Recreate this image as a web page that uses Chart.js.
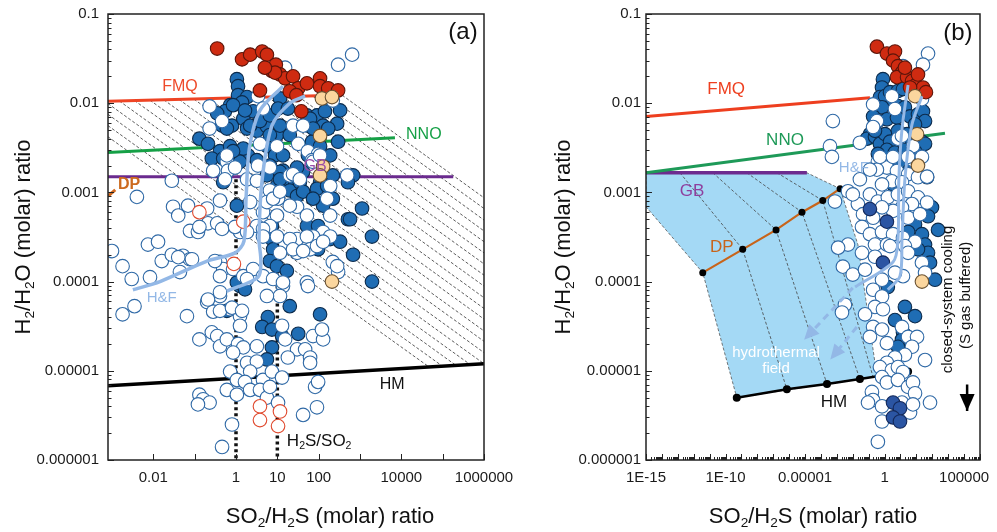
<!DOCTYPE html>
<html>
<head>
<meta charset="utf-8">
<script src="https://cdn.jsdelivr.net/npm/chart.js@4.4.1/dist/chart.umd.min.js"></script>
<style>
html, body { margin: 0; padding: 0; background: #fff; }
#wrap { position: relative; width: 997px; height: 532px; overflow: hidden; }
canvas { position: absolute; top: 0; }
#ca { left: 0; }
#cb { left: 530px; }
</style>
</head>
<body>
<div id="wrap">
  <canvas id="ca" width="530" height="532"></canvas>
  <canvas id="cb" width="467" height="532"></canvas>
</div>
<script>
/* ── H2/H2O vs SO2/H2S ── */

const FONT = '"Liberation Sans", Arial, Helvetica, sans-serif';

// ── Ejes ──
const yTicks = [1e-6, 1e-5, 1e-4, 1e-3, 1e-2, 1e-1];
const yTickLabels = ['0.000001', '0.00001', '0.0001', '0.001', '0.01', '0.1'];
const xTicksA = [0.01, 0.1, 1, 10, 100, 1000, 1e4, 1e5, 1e6];
const xTickLabelsA = ['0.01', '', '1', '10', '100', '', '10000', '', '1000000'];
const xTicksB = [1e-15, 1e-14, 1e-13, 1e-12, 1e-11, 1e-10, 1e-9, 1e-8, 1e-7, 1e-6, 1e-5,
    1e-4, 1e-3, 1e-2, 1e-1, 1, 10, 100, 1000, 1e4, 1e5, 1e6];
const xTickLabelsB = ['1E-15', '', '', '', '', '1E-10', '', '', '', '', '0.00001',
    '', '', '', '', '1', '', '', '', '', '100000', ''];

// ── Panel (a): muestras ──
const redA = [[0.35,0.041],[1.4,0.031],[2.2,0.035],[4.3,0.038],[5.6,0.035],[7.4,0.023],[9.2,0.027],[11.6,0.021],
    [15.4,0.019],[24,0.020],[32,0.0147],[52,0.0167],[108,0.019],[108,0.0155],[170,0.0147],[295,0.0139],[38,0.0081],
    [3.8,0.0139],[20,0.0136],[29,0.0123],[8.8,0.022],[5.0,0.025]];
const tanA = [[120,0.0113],[210,0.0117],[108,0.0043],[128,0.00195],[108,0.00155],[210,0.0001]];
const redOpenA = [[0.13,0.0006],[1.5,0.00047],[0.89,0.000158],[3.8,0.000004],[11.6,0.0000035],[3.8,0.0000028],[10.4,0.0000024]];
const blueA = [
    [1.05,0.0186],[1.12,0.0155],[1.12,0.0123],[1.85,0.0117],[1.4,0.0102],[0.72,0.0095],[0.54,0.0081],[0.35,0.0077],[0.46,0.0056],[0.80,0.0056],
    [1.5,0.0067],[2.6,0.0081],[1.85,0.0052],[3.2,0.0049],[5.6,0.0055],[9.8,0.0044],[5.6,0.0033],[8.8,0.0026],[0.13,0.0040],[0.21,0.0035],
    [0.41,0.0029],[0.72,0.0033],[1.4,0.0029],[1.95,0.0026],[3.2,0.0023],[6.6,0.0020],[13.7,0.00175],[23,0.00135],[13,0.0013],[20,0.00105],
    [30,0.00091],[52,0.0073],[91,0.0073],[128,0.0056],[55,0.0056],[280,0.0059],[142,0.0081],[69,0.0037],[108,0.0033],[295,0.0037],
    [190,0.0026],[55,0.0026],[42,0.0017],[128,0.00155],[108,0.0013],[91,0.0011],[128,0.00071],[1120,0.00066],[510,0.0005],[1950,0.00032],
    [52,0.00042],[97,0.00042],[190,0.0003],[7.4,0.00042],[7.4,0.0003],[0.80,0.0024],[0.26,0.0024],[1.05,0.00071],[5.6,0.00155],[9.8,0.00118],
    [2.2,0.0056],[3.8,0.0063],[6.6,0.0073],[11.6,0.0113],[10.4,0.0087],[18,0.0087],[62,0.0067],[330,0.0083],[73,0.0052],[170,0.0052],
    [11.6,0.0056],[6.6,0.0044],[20,0.0044],[0.60,0.0052],[1.5,0.0031],[0.49,0.0024],[1.25,0.0022],[13.7,0.0026],[30,0.0019],[11.6,0.0017],
    [220,0.00155],[680,0.00155],[0.49,0.0013],[11.6,0.0014],[35,0.0013],[42,0.00102],[73,0.00085],[220,0.00085],[510,0.0013],[160,0.00118],
    [575,0.0005],[330,0.00028],[680,0.0002],[97,0.00023],[7.9,0.00023],[6.6,0.00017],[9.8,0.000149],[17,0.000132],[1.25,0.000089],[20,0.000053],
    [108,0.000043],[5.9,0.00004],[4.3,0.000031],[7.4,0.000029],[13,0.0000245],[32,0.000026],[7.4,0.0000183],[0.60,0.000047],[5.6,0.0000134],[1950,0.0001],
    [1.05,0.000098],[1.65,0.000082],[0.85,0.0095],[1.65,0.0083],[0.85,0.0029]];
const whiteA = [
    [645,0.035],[295,0.027],[15.4,0.025],[3.4,0.012],[0.23,0.0092],[0.46,0.0063],[0.23,0.0052],[4.5,0.0087],[24,0.0056],[42,0.0056],
    [32,0.0035],[9.8,0.0033],[220,0.0107],[55,0.0029],[97,0.0027],[69,0.0023],[3.8,0.0035],[0.60,0.0022],[0.28,0.00175],[0.64,0.00175],
    [3.4,0.002],[6.6,0.0019],[20,0.00155],[490,0.00155],[0.6,0.0026],[0.54,0.0014],[0.95,0.0019],[0.028,0.00135],[0.004,0.00089],[0.030,0.00069],
    [0.040,0.00055],[0.069,0.00071],[0.077,0.00037],[0.12,0.00036],[0.21,0.00045],[0.35,0.00045],[0.46,0.00039],[0.41,0.00081],[1.85,0.0014],[3.2,0.00135],
    [6.6,0.00105],[10.4,0.00085],[24,0.0016],[35,0.0014],[73,0.0022],[108,0.0026],[190,0.00118],[160,0.00085],[190,0.00055],[30,0.00069],
    [52,0.00055],[128,0.00036],[73,0.00032],[30,0.0003],[9.8,0.00055],[4.5,0.0006],[6.6,0.00042],[3.2,0.00042],[1.25,0.00036],[2.2,0.00078],
    [0.20,0.00066],[0.13,0.00041],[0.95,0.00041],[1.85,0.00036],[4.5,0.00039],[5.6,0.00078],[7.9,0.00085],[11.6,0.00102],[20,0.00071],[52,0.00032],
    [20,0.0003],[11.6,0.00021],[30,0.00021],[62,0.00023],[91,0.00025],[190,0.00032],[220,0.000166],[295,0.000128],[0.052,0.000195],[0.077,0.000178],
    [0.41,0.000166],[0.49,0.000138],[0.41,0.000115],[0.85,0.000138],[1.5,0.000115],[2.6,0.000138],[4.5,0.000115],[7.9,0.000107],[13.7,0.000089],[11.6,0.000069],
    [52,0.000098],[5.6,0.000069],[0.41,0.000069],[0.20,0.000059],[0.28,0.000046],[0.72,0.000049],[1.25,0.000041],[0.065,0.000041],[0.001,0.00022],[0.0074,0.00026],
    [0.013,0.00028],[0.0018,0.000149],[0.003,0.000107],[0.0083,0.000112],[0.016,0.00017],[0.028,0.0002],[0.040,0.000188],[0.086,0.000178],[0.044,0.000128],[0.0018,0.000043],
    [0.0035,0.000053],[0.21,0.000063],[0.41,0.000076],[0.31,0.00017],[1.85,0.000107],[55,0.000089],[280,0.000149],[13.7,0.000098],[24,0.00023],[42,0.00022],
    [128,0.00028],[4.5,0.00032],[9.8,0.00032],[0.41,0.000047],[0.80,0.000051],[1.4,0.000047],[1.25,0.000032],[0.13,0.0000225],[0.26,0.000027],[0.35,0.0000245],
    [0.41,0.0000188],[0.60,0.0000225],[1.12,0.00002],[1.5,0.0000183],[0.85,0.000016],[3.2,0.0000188],[1.85,0.0000123],[3.2,0.0000127],[13,0.000032],[15.4,0.0000225],
    [30,0.0000174],[18,0.0000141],[47,0.0000174],[62,0.0000141],[62,0.0000123],[73,0.0000245],[128,0.0000225],[120,0.000029],[0.72,0.0000098],[2.2,0.0000098],
    [1.05,0.0000079],[1.65,0.0000075],[4.5,0.0000079],[7.4,0.0000098],[13,0.0000084],[0.60,0.0000061],[2.2,0.0000061],[3.8,0.0000061],[5.6,0.000005],[0.13,0.0000054],
    [0.16,0.0000048],[0.23,0.0000044],[0.12,0.0000042],[1.05,0.0000054],[6.6,0.0000066],[10.4,0.0000044],[42,0.0000032],[91,0.0000039],[82,0.0000066],[97,0.0000075],
    [0.80,0.0000025],[0.46,0.0000014]];

// ── Panel (a): buffers y curvas ──
const fmqA = [[0.0008,0.0105],[275,0.0123]];
const nnoA = [[0.0008,0.0028],[7000,0.0041]];
const gbA = [[0.0008,0.0015],[1.8e5,0.0015]];
const dpA = [[0.0008,0.00091],[0.0012,0.00107]];
const hmA = [[0.0008,0.0000068],[1e6,0.000012]];
const hfA1 = [[0.0032,0.000081],[0.0145,0.0001],[0.2,0.00017],[0.95,0.00021],[1.56,0.000285],[1.75,0.00085],[2.1,0.0031],[3.8,0.0083],[13.7,0.0155]];
const hfA2 = [[0.6,0.000078],[3.4,0.000112],[4.0,0.00017],[3.6,0.0003],[4.3,0.0014],[7.4,0.0056],[20,0.01],[47,0.012]];
const h2sA1 = [[1,0.0014],[1,0.000001]];
const h2sA2 = [[10,0.00058],[10,0.000001]];
const isoA = [
    [[370,0.0123],[1e6,0.00087]], [[160,0.0122],[1e6,0.00066]], [[72,0.012],[1e6,0.00049]],
    [[32,0.0119],[1e6,0.00037]], [[13.7,0.0118],[1e6,0.00028]], [[5.9,0.0117],[1e6,0.00021]],
    [[2.6,0.0116],[1e6,0.000158]], [[1.18,0.0115],[1e6,0.000118]], [[0.51,0.0113],[1e6,0.000089]],
    [[0.22,0.0112],[1e6,0.000066]], [[0.096,0.0111],[1e6,0.00005]], [[0.042,0.011],[1e6,0.000038]],
    [[0.018,0.0109],[1e6,0.000028]], [[0.0083,0.0108],[1e6,0.0000214]], [[0.0035,0.0107],[1e6,0.000016]],
    [[0.0015,0.0106],[1e6,0.000012]], [[0.0008,0.0099],[4.7e5,0.0000117]], [[0.0008,0.0075],[2.1e5,0.0000115]],
    [[0.0008,0.0056],[9.8e4,0.0000113]], [[0.0008,0.0042],[4.5e4,0.0000112]]];

// ── Panel (b): muestras ──
const redB = [[0.33,0.043],[1.4,0.036],[4.5,0.038],[3.4,0.030],[6.9,0.026],[12.4,0.022],[6.0,0.0196],[26,0.0196],
    [53,0.0177],[94,0.016],[126,0.021],[260,0.015],[400,0.0133],[40,0.015],[19,0.025]];
const tanB = [[82,0.012],[110,0.0045],[126,0.002],[224,0.0001]];
const navyB = [[0.79,0.000163],[3.4,0.0000044],[9.3,0.0000038],[3.4,0.000003],[9.3,0.0000027],[0.12,0.00065],[1.4,0.00047]];
const blueB = [
    [0.79,0.0186],[0.69,0.015],[0.51,0.0117],[1.07,0.012],[2.2,0.0133],[6.9,0.0137],[14.4,0.0144],[2.9,0.0097],[6.9,0.0093],[19,0.009],
    [0.69,0.009],[0.19,0.0071],[0.38,0.0063],[1.4,0.0066],[6.0,0.0069],[40,0.0071],[126,0.0075],[260,0.0081],[350,0.0063],[82,0.0058],
    [0.12,0.0045],[0.078,0.004],[0.25,0.0042],[0.51,0.0035],[1.07,0.0045],[2.2,0.0037],[6.9,0.0049],[26,0.0045],[53,0.0035],[224,0.0037],
    [350,0.0035],[1.4,0.003],[4.5,0.0028],[0.38,0.0027],[19,0.003],[82,0.0029],[0.25,0.0049],[470,0.00148],[960,0.00068],[540,0.00054],
    [2300,0.00038],[82,0.00044],[30,0.00036],[224,0.00034],[350,0.00026],[540,0.00021],[1480,0.000105],[19,0.000052],[82,0.000041],[4.5,0.000037],
    [14.4,0.000027],[12.4,0.0000224],[6.9,0.0000186],[1.6,0.000087],[126,0.00023],[720,0.000163],[9.3,0.002],[40,0.0018],[3.4,0.00123]];
const whiteB = [
    [540,0.036],[260,0.027],[14.4,0.026],[2.9,0.012],[0.19,0.0097],[4.5,0.0086],[224,0.0111],[0.33,0.0063],[6.9,0.004],[61,0.0023],
    [0.38,0.0022],[1.4,0.0019],[0.33,0.0018],[6.0,0.00174],[30,0.0016],[126,0.00148],[2.9,0.00133],[0.69,0.00123],[12.4,0.0013],[0.028,0.0014],
    [0.005,0.00103],[0.12,0.00095],[0.38,0.00079],[1.6,0.00088],[6.9,0.00095],[30,0.00103],[126,0.00088],[53,0.00074],[12.4,0.00068],[3.4,0.00062],
    [0.69,0.00068],[0.021,0.00074],[0.044,0.00057],[0.19,0.00052],[0.00076,0.00079],[30,0.00052],[170,0.00057],[0.038,0.00041],[0.12,0.00034],[0.69,0.00036],
    [3.4,0.00034],[14.4,0.00031],[82,0.00028],[0.25,0.00026],[1.4,0.00026],[0.005,0.00026],[0.0012,0.00024],[0.00056,0.0063],[0.00037,0.0033],[0.00049,0.0025],
    [0.028,0.0036],[0.19,0.0054],[12.4,0.0043],[61,0.0033],[0.51,0.0025],[3.4,0.0025],[30,0.0025],[224,0.0025],[0.010,0.00095],[0.12,0.0018],
    [470,0.0015],[470,0.00077],[0.038,0.00021],[0.0024,0.000147],[0.010,0.00012],[0.059,0.000136],[0.25,0.00019],[2.2,0.00025],[19,0.00025],[30,0.00021],
    [224,0.000163],[350,0.000126],[14.4,0.000115],[4.5,0.000126],[0.69,0.000105],[0.19,0.000081],[0.69,0.000068],[0.25,0.000052],[0.79,0.000049],[0.0032,0.000055],
    [0.0021,0.000045],[0.059,0.000043],[0.19,0.000031],[0.12,0.000024],[0.69,0.000029],[1.4,0.0000204],[12.4,0.000031],[30,0.000024],[110,0.000024],[53,0.0000186],
    [19,0.0000151],[4.5,0.0000141],[1.4,0.0000123],[0.51,0.000011],[2.9,0.0000102],[6.9,0.000011],[14.4,0.0000097],[0.69,0.0000085],[1.4,0.0000074],[6.9,0.0000079],
    [30,0.0000066],[61,0.0000074],[82,0.0000056],[0.16,0.0000058],[0.19,0.0000047],[0.69,0.000004],[12.4,0.0000044],[40,0.0000034],[61,0.0000042],[0.69,0.0000027],
    [0.38,0.0000016],[720,0.0000044],[350,0.0000132],[0.091,0.0000044]];

// ── Panel (b): buffers, campo hidrotermal ──
const fmqB = [[1e-15,0.0071],[0.12,0.0115]];
const nnoB = [[1e-15,0.00166],[6300,0.0046]];
const gbB = [[1e-15,0.00166],[1.3e-5,0.00166]];
const dpB = [[3.7e-12,0.000126],[1.2e-9,0.00023],[1.5e-7,0.00038],[6.4e-6,0.0006],[1.3e-4,0.00081],[1.6e-3,0.0011]];
const hmB = [[5.1e-10,0.000005],[7.2e-7,0.0000062],[2.4e-4,0.0000071],[0.028,0.0000081],[30,0.0000098]];
const fieldB = [[1e-15,0.00166],[1.3e-5,0.00166],[1.6e-3,0.0011],[0.021,0.00026],[0.33,0.0000087],
    [5.1e-10,0.000005],[3.7e-12,0.000126],[1e-15,0.00069],[1e-15,0.00166]];
const isoB = [
    [[1.35e-13,0.00166],[1.2e-9,0.00023],[7.2e-7,0.0000062]],
    [[1.6e-11,0.00166],[1.5e-7,0.00038],[2.4e-4,0.0000071]],
    [[2.2e-9,0.00166],[6.4e-6,0.0006],[0.028,0.0000081]],
    [[1.7e-7,0.00166],[1.3e-4,0.00081],[0.19,0.0000085]]];
const hfB1 = [[0.014,0.000087],[3.4,0.000166],[6.9,0.00029],[7.9,0.0014],[12.4,0.0051],[30,0.016]];
const hfB2 = [[1.6,0.000081],[9.3,0.000115],[12.4,0.00029],[19,0.0014],[52,0.0057],[224,0.012]];
const arrowB1 = [[0.01,0.000085],[1.3e-5,0.000024]];
const arrowB2 = [[0.018,0.000031],[5.6e-4,0.0000145]];
const coolB = [[1.55e5,0.000007],[1.55e5,0.00000355]];

// ── Helpers ──
const pts = arr => arr.map(p => ({ x: p[0], y: p[1] }));

function dots(data, fill, border, order) {
    return {
        data: pts(data), showLine: false, order: order,
        pointRadius: 6.8, pointHoverRadius: 6.8,
        pointBackgroundColor: fill, pointBorderColor: border, pointBorderWidth: 1.1
    };
}

function line(data, color, width, order, extra) {
    return Object.assign({
        data: pts(data), showLine: true, borderColor: color, borderWidth: width,
        pointRadius: 0, pointHoverRadius: 0, fill: false, tension: 0, order: order
    }, extra || {});
}

function axes(xMin, xMax, xTicks, xLabels, yWidth, yPad) {
    const noPad = s => { s.paddingLeft = 0; s.paddingRight = 0; s.paddingTop = 0; s.paddingBottom = 0; };
    return {
        x: {
            type: 'logarithmic', min: xMin, max: xMax,
            grid: { display: false, drawTicks: false }, border: { display: false },
            afterBuildTicks: s => { s.ticks = xTicks.map(v => ({ value: v })); },
            afterFit: s => { s.height = 72; noPad(s); },
            ticks: {
                autoSkip: false, maxRotation: 0, minRotation: 0, padding: 9, color: '#1a1a1a',
                font: { family: FONT, size: 15 }, callback: (v, i) => xLabels[i]
            }
        },
        y: {
            type: 'logarithmic', min: 1e-6, max: 0.1,
            grid: { display: false, drawTicks: false }, border: { display: false },
            afterBuildTicks: s => { s.ticks = yTicks.map(v => ({ value: v })); },
            afterFit: s => { s.width = yWidth; noPad(s); },
            ticks: {
                autoSkip: false, padding: yPad, color: '#1a1a1a',
                font: { family: FONT, size: 15 }, callback: (v, i) => yTickLabels[i]
            }
        }
    };
}

// texto con subíndices: parts = [[texto, esSub], ...]
function drawRich(ctx, parts, x, y, size, color, rot, align) {
    ctx.save();
    ctx.translate(x, y);
    if (rot) ctx.rotate(rot);
    ctx.fillStyle = color;
    ctx.textBaseline = 'alphabetic';
    ctx.textAlign = 'left';
    const fonts = parts.map(p => (p[1] ? size * 0.62 : size) + 'px ' + FONT);
    let w = 0;
    parts.forEach((p, i) => { ctx.font = fonts[i]; w += ctx.measureText(p[0]).width; });
    let cx = align === 'left' ? 0 : -w / 2;
    const base = size * 0.36;
    parts.forEach((p, i) => {
        ctx.font = fonts[i];
        ctx.fillText(p[0], cx, base + (p[1] ? size * 0.2 : 0));
        cx += ctx.measureText(p[0]).width;
    });
    ctx.restore();
}

const Y_TITLE = [['H', 0], ['2', 1], ['/H', 0], ['2', 1], ['O (molar) ratio', 0]];
const X_TITLE = [['SO', 0], ['2', 1], ['/H', 0], ['2', 1], ['S (molar) ratio', 0]];

function overlay(opt) {
    return {
        id: 'overlay',
        afterDatasetsDraw(chart) {
            const { ctx, scales: { x, y } } = chart;
            (opt.arrows || []).forEach(a => {
                const n = a.data.length;
                const x1 = x.getPixelForValue(a.data[n - 2][0]), y1 = y.getPixelForValue(a.data[n - 2][1]);
                const x2 = x.getPixelForValue(a.data[n - 1][0]), y2 = y.getPixelForValue(a.data[n - 1][1]);
                ctx.save();
                ctx.translate(x2, y2);
                ctx.rotate(Math.atan2(y2 - y1, x2 - x1));
                ctx.fillStyle = a.color;
                ctx.beginPath();
                ctx.moveTo(a.tip, 0);
                ctx.lineTo(a.tip - a.len, -a.wid / 2);
                ctx.lineTo(a.tip - a.len, a.wid / 2);
                ctx.closePath();
                ctx.fill();
                ctx.restore();
            });
        },
        afterDraw(chart) {
            const { ctx, chartArea: ar, scales: { x, y } } = chart;
            ctx.save();
            // marcas hacia dentro
            ctx.strokeStyle = '#222';
            ctx.lineWidth = 1;
            yTicks.forEach(d => {
                for (let k = 1; k < 10; k++) {
                    const v = d * k;
                    if (v > y.max * 1.0001) break;
                    const py = Math.round(y.getPixelForValue(v)) + 0.5;
                    ctx.beginPath();
                    ctx.moveTo(ar.left, py);
                    ctx.lineTo(ar.left + (k === 1 ? 6 : 3.5), py);
                    ctx.stroke();
                }
            });
            opt.xTicks.forEach(d => {
                const kMax = opt.xMinor ? 9 : 1;
                for (let k = 1; k <= kMax; k++) {
                    const v = d * k;
                    if (v > x.max * 1.0001) break;
                    const px = Math.round(x.getPixelForValue(v)) + 0.5;
                    ctx.beginPath();
                    ctx.moveTo(px, ar.bottom);
                    ctx.lineTo(px, ar.bottom - (k === 1 ? 6 : 3));
                    ctx.stroke();
                }
            });
            // marco
            ctx.strokeStyle = '#222';
            ctx.lineWidth = 1.5;
            ctx.strokeRect(ar.left, ar.top, ar.right - ar.left, ar.bottom - ar.top);

            // etiquetas
            opt.notes.forEach(n => {
                const px = x.getPixelForValue(n.x), py = y.getPixelForValue(n.y);
                ctx.save();
                ctx.translate(px, py);
                if (n.rot) ctx.rotate(n.rot);
                ctx.fillStyle = n.c;
                ctx.font = (n.b ? 'bold ' : '') + n.s + 'px ' + FONT;
                ctx.textAlign = 'center';
                ctx.textBaseline = 'middle';
                ctx.fillText(n.t, 0, 0);
                ctx.restore();
            });
            (opt.rich || []).forEach(r => {
                drawRich(ctx, r.parts, x.getPixelForValue(r.x), y.getPixelForValue(r.y), r.s, r.c, 0, 'left');
            });
            // títulos de ejes
            drawRich(ctx, Y_TITLE, opt.yTitle[0], opt.yTitle[1], 22, '#111', -Math.PI / 2);
            drawRich(ctx, X_TITLE, opt.xTitle[0], opt.xTitle[1], 22, '#111', 0);
            ctx.restore();
        }
    };
}

function baseOptions(scales, pad) {
    return {
        responsive: false,
        animation: false,
        layout: { padding: pad },
        plugins: { legend: { display: false }, tooltip: { enabled: false } },
        scales: scales
    };
}

// ── Colores ──
const C_BLUE = '#1f6db4', C_BLUE_B = '#0c2b4c';
const C_WHITE_B = '#2f69a6';
const C_RED = '#cf2b11', C_RED_B = '#5c150a';
const C_TAN = '#fbd69e', C_TAN_B = '#6b5232';
const C_HF = '#93b8e6';

// ── Panel (a) ──
const dsA = [
    line(hfA1, C_HF, 3.5, 1, { tension: 0.3 }),
    line(hfA2, C_HF, 3.5, 1, { tension: 0.3 }),
    dots(tanA, C_TAN, C_TAN_B, 2),
    dots(redA, C_RED, C_RED_B, 3),
    dots(redOpenA, '#ffffff', '#e0492d', 3),
    dots(whiteA, '#ffffff', C_WHITE_B, 4),
    dots(blueA, C_BLUE, C_BLUE_B, 5),
    line(h2sA1, '#111', 3.5, 9, { borderDash: [3, 3] }),
    line(h2sA2, '#111', 3.5, 9, { borderDash: [3, 3] }),
    line(fmqA, '#ee4424', 3, 10),
    line(nnoA, '#15a046', 3, 10),
    line(gbA, '#6a2a8e', 3, 10),
    line(dpA, '#d2691e', 3, 10),
    line(hmA, '#000', 3.5, 10)
].concat(isoA.map(seg => line(seg, '#333', 0.8, 12, { borderDash: [3, 2] })));

const notesA = [
    { t: 'FMQ', x: 0.044, y: 0.0155, c: '#ee4a2a', s: 16 },
    { t: 'NNO', x: 35000, y: 0.0044, c: '#15a046', s: 16 },
    { t: 'GB', x: 82, y: 0.00195, c: '#9a4ea8', s: 16 },
    { t: 'DP', x: 0.0026, y: 0.00123, c: '#cc6a1f', s: 16, b: true },
    { t: 'H&F', x: 0.016, y: 0.000066, c: C_HF, s: 15 },
    { t: 'HM', x: 6000, y: 0.000007, c: '#111', s: 16 },
    { t: '(a)', x: 3.1e5, y: 0.063, c: '#111', s: 24 }
];

new Chart(document.getElementById('ca'), {
    type: 'scatter',
    data: { datasets: dsA },
    options: baseOptions(axes(0.0008, 1e6, xTicksA, xTickLabelsA, 108, 9),
        { top: 14, right: 46, bottom: 0, left: 0 }),
    plugins: [overlay({
        xTicks: xTicksA, xMinor: false, notes: notesA,
        rich: [{ parts: [['H', 0], ['2', 1], ['S/SO', 0], ['2', 1]], x: 17, y: 0.0000017, s: 17, c: '#111' }],
        yTitle: [22, 237], xTitle: [330, 515]
    })]
});

// ── Panel (b) ──
const dsB = [
    line(hfB1, C_HF, 3, 1, { tension: 0.3 }),
    line(hfB2, C_HF, 3, 1, { tension: 0.3 }),
    line(arrowB1, C_HF, 3, 1, { borderDash: [7, 5] }),
    line(arrowB2, C_HF, 3, 1, { borderDash: [7, 5] }),
    line(coolB, '#000', 2.5, 1),
    dots(tanB, C_TAN, C_TAN_B, 4),
    dots(redB, C_RED, C_RED_B, 4),
    dots(navyB, '#2b55a3', '#14295a', 5),
    dots(whiteB, '#ffffff', C_WHITE_B, 6),
    dots(blueB, C_BLUE, C_BLUE_B, 7),
    line(dpB, '#c8641a', 2.2, 15, { pointRadius: 3.5, pointBackgroundColor: '#000', pointBorderWidth: 0 }),
    line(hmB, '#000', 2.5, 15, { pointRadius: 4, pointBackgroundColor: '#000', pointBorderWidth: 0 }),
    line(fmqB, '#ee3f1f', 3, 16),
    line(nnoB, '#1e9a58', 3, 16),
    line(gbB, '#6d2b8f', 3.5, 16)
].concat(isoB.map(seg => line(seg, '#444', 0.8, 18, { borderDash: [3, 2] })))
 .concat([line(fieldB, '#555', 0.8, 20, { borderDash: [3, 2], fill: 'shape', backgroundColor: '#a4d9f5' })]);

const notesB = [
    { t: 'FMQ', x: 1.1e-10, y: 0.0144, c: '#ee3f1f', s: 17 },
    { t: 'NNO', x: 5.5e-7, y: 0.0038, c: '#1e9a58', s: 17 },
    { t: 'GB', x: 7.8e-13, y: 0.00103, c: '#8e3f9e', s: 17 },
    { t: 'DP', x: 5.9e-11, y: 0.00024, c: '#c8641a', s: 17 },
    { t: 'H&F', x: 0.0117, y: 0.0019, c: C_HF, s: 15 },
    { t: 'HM', x: 6.6e-4, y: 0.0000044, c: '#111', s: 17 },
    { t: 'hydrothermal', x: 1.5e-7, y: 0.000016, c: '#ffffff', s: 15 },
    { t: 'field', x: 1.5e-7, y: 0.0000105, c: '#ffffff', s: 15 },
    { t: '(b)', x: 41000, y: 0.061, c: '#111', s: 24 },
    { t: 'closed-system cooling', x: 1e4, y: 0.000063, c: '#111', s: 15, rot: -Math.PI / 2 },
    { t: '(S gas buffered)', x: 1.35e5, y: 0.00007, c: '#111', s: 15, rot: -Math.PI / 2 }
];

new Chart(document.getElementById('cb'), {
    type: 'scatter',
    data: { datasets: dsB },
    options: baseOptions(axes(1e-15, 1e6, xTicksB, xTickLabelsB, 116, 5),
        { top: 14, right: 17, bottom: 0, left: 0 }),
    plugins: [overlay({
        xTicks: xTicksB, xMinor: true, notes: notesB,
        arrows: [
            { data: arrowB1, color: C_HF, len: 15, wid: 14, tip: 4 },
            { data: arrowB2, color: C_HF, len: 15, wid: 14, tip: 4 },
            { data: coolB, color: '#000', len: 17, wid: 15, tip: 0 }
        ],
        yTitle: [32, 237], xTitle: [283, 515]
    })]
});
</script>
</body>
</html>
